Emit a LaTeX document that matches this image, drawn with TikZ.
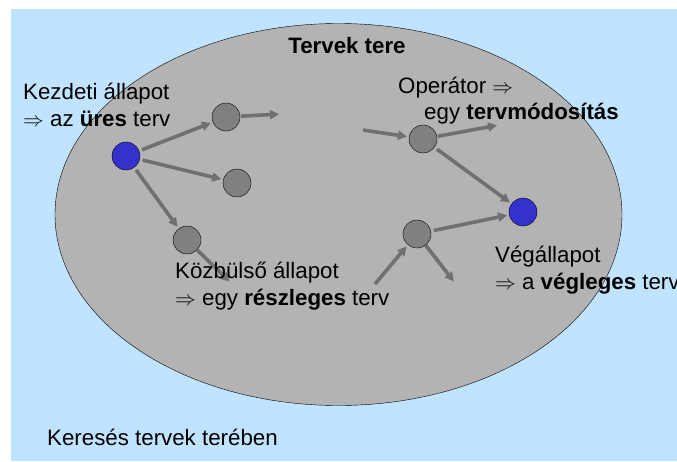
\documentclass[tikz,border=0pt]{standalone}
\usepackage{fontspec}
\setmainfont{Liberation Sans}
\usetikzlibrary{arrows.meta}

\definecolor{skyblue}{HTML}{C0E4FF}
\definecolor{spacegray}{HTML}{B3B3B3}
\definecolor{stategray}{HTML}{808080}
\definecolor{stateblue}{HTML}{3333CC}
\definecolor{arrowgray}{HTML}{707070}

\begin{document}
\begin{tikzpicture}[%
  x=1pt, y=-1pt,
  state/.style = {circle, draw=black, thin, fill=stategray, minimum size=28pt, inner sep=0pt},
  goal/.style = {state, fill=stateblue},
  move/.style = {draw=arrowgray, line width=3.6pt, shorten <=3pt, shorten >=2pt},
  note/.style = {anchor=base west, align=left, inner sep=0pt},
  >={Triangle[length=9pt,width=9pt]},
  font=\fontsize{22.3}{26.5}\selectfont,
]

  \useasboundingbox (0,0) rectangle (677,461);
  \fill[skyblue] (11,9) rectangle (677,461);

  % the search space
  \filldraw[fill=spacegray, draw=black, thin] (338.5,214.5) ellipse [x radius=283.5, y radius=191];
  \node[anchor=base] (title) at (347,53) {\textbf{Tervek tere}};

  % states
  \node[goal]  (start) at (126,156) {};
  \node[state] (s1)    at (226,117) {};
  \node[state] (s2)    at (237,183) {};
  \node[state] (s3)    at (187,240) {};
  \node[state] (op)    at (423,139) {};
  \node[state] (s4)    at (417,234) {};
  \node[goal]  (end)   at (523,212) {};

  % loose arrow ends
  \coordinate (s1out) at (281,114);
  \coordinate (opin)  at (363,130);
  \coordinate (opout) at (499,125);
  \coordinate (s3out) at (231,283);
  \coordinate (s4in)  at (375,284);
  \coordinate (s4out) at (455,283);

  \draw[move, ->] (start) -- (s1);
  \draw[move, ->] (start) -- (s2);
  \draw[move, ->] (start) -- (s3);
  \draw[move, ->, shorten <=1pt] (s1) -- (s1out);
  \draw[move, ->, shorten <=0pt] (opin) -- (op);
  \draw[move, ->, shorten <=1pt] (op) -- (opout);
  \draw[move, ->] (op) -- (end);
  \draw[move, ->] (s4) -- (end);
  \draw[move, ->, shorten <=0pt] (s4in) -- (s4);
  \draw[move, ->, shorten <=0pt] (s4) -- (s4out);
  \draw[move, ->, shorten <=0pt] (s3) -- (s3out);

  % labels (base = last line)
  \node[note] (startlbl) at (23,126) {Kezdeti állapot\\$\Rightarrow$ az \textbf{üres} terv};
  \node[note] (oplbl1) at (398,93) {Operátor $\Rightarrow$};
  \node[note] (oplbl2) at (424,119) {egy \textbf{tervmódosítás}};
  \node[note] (midlbl) at (175,305) {Közbülső állapot\\$\Rightarrow$ egy \textbf{részleges} terv};
  \node[note] (endlbl) at (495,289) {Végállapot\\$\Rightarrow$ a \textbf{végleges} terv};
  \node[note] (caption) at (47,445) {Keresés tervek terében};

\end{tikzpicture}
\end{document}
